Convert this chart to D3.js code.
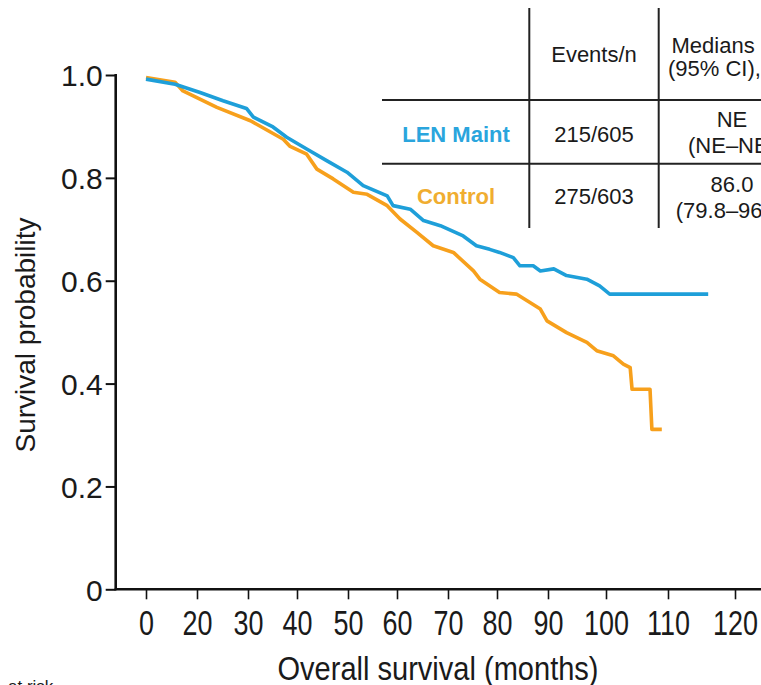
<!DOCTYPE html>
<html>
<head>
<meta charset="utf-8">
<script src="https://cdn.jsdelivr.net/npm/d3@7"></script>
<style>
  html, body { margin: 0; padding: 0; background: #ffffff; }
  svg { display: block; font-family: "Liberation Sans", Arial, sans-serif; }
</style>
</head>
<body>
<svg id="chart" width="761" height="685"></svg>
<script>
// ---------- DATA ----------
const xTickValues = [0, 20, 30, 40, 50, 60, 70, 80, 90, 100, 110, 120];
const yTickValues = [0, 0.2, 0.4, 0.6, 0.8, 1.0];

const lenMonths = [0, 11.4, 20.6, 25.1, 29.7, 31.1, 35.1, 37.9, 41.9, 45.9, 49.8, 53.1, 58.0, 59.2, 62.6, 65.2, 68.5, 73.1, 75.8, 78.5, 80.5, 83.2, 84.5, 87.1, 88.5, 91.0, 93.2, 96.7, 98.9, 100.6, 116.0];
const lenSurv   = [0.992, 0.982, 0.966, 0.950, 0.935, 0.918, 0.899, 0.879, 0.856, 0.833, 0.811, 0.785, 0.765, 0.746, 0.739, 0.717, 0.707, 0.687, 0.668, 0.661, 0.655, 0.645, 0.629, 0.629, 0.619, 0.623, 0.610, 0.603, 0.590, 0.574, 0.574];

const ctlMonths = [0, 11.4, 14.5, 23.9, 30.5, 37.2, 38.6, 41.9, 43.9, 47.1, 51.1, 53.9, 58.0, 60.6, 63.9, 67.1, 71.1, 75.2, 76.5, 80.5, 83.8, 88.5, 89.8, 93.2, 96.7, 98.4, 101.2, 102.8, 103.9, 104.2, 107.1, 107.4, 109.0];
const ctlSurv   = [0.995, 0.986, 0.969, 0.937, 0.911, 0.875, 0.861, 0.846, 0.817, 0.798, 0.772, 0.768, 0.746, 0.720, 0.694, 0.668, 0.655, 0.619, 0.603, 0.577, 0.574, 0.545, 0.522, 0.499, 0.480, 0.464, 0.454, 0.438, 0.431, 0.389, 0.389, 0.311, 0.311];

const groupNames   = ["LEN Maint", "Control"];
const groupEvents  = ["215/605", "275/603"];
const groupMedians = ["NE", "86.0"];
const groupCIs     = ["(NE\u2013NE)", "(79.8\u201396.0)"];
const tableHeaders = ["Events/n", "Medians (mo)", "(95% CI), mo"];

// ---------- LAYOUT ----------
const svg = d3.select("#chart");
const W = 761;
const yAxisX = 115.7, xAxisY = 589.3, yTopPx = 75;
// tick positions of the (non-uniform) month axis, as drawn in the figure
const xTickPx = [146, 197, 248, 297, 348, 397, 448, 497, 548, 606, 668, 735];
const blue = "#1e9fd9", orange = "#f7a01c";

const x = d3.scaleLinear().domain(xTickValues).range(xTickPx);
const y = d3.scaleLinear().domain([0, 1]).range([xAxisY, yTopPx]);

function txt(parent, px, py, str, size, sx, anchor, color, weight) {
  return parent.append("text")
    .attr("transform", `translate(${px},${py}) scale(${sx},1)`)
    .attr("text-anchor", anchor)
    .attr("font-size", size)
    .attr("font-weight", weight || "normal")
    .attr("fill", color || "#1a1a1a")
    .text(str);
}

// ---------- AXES ----------
const yAxis = d3.axisLeft(y).tickValues(yTickValues)
  .tickFormat(d => d === 0 ? "0" : d3.format(".1f")(d))
  .tickSize(10).tickPadding(3);
const gy = svg.append("g").attr("transform", `translate(${yAxisX},0)`).call(yAxis);
gy.select(".domain").remove();
gy.selectAll(".tick line").attr("stroke", "#111").attr("stroke-width", 2);
gy.selectAll(".tick text").attr("font-size", 30).attr("fill", "#1a1a1a")
  .attr("font-family", "'Liberation Sans', Arial, sans-serif").attr("dy", "0.36em");

const xAxis = d3.axisBottom(x).tickValues(xTickValues).tickSize(10).tickFormat(d3.format("d"));
const gx = svg.append("g").attr("transform", `translate(0,${xAxisY})`).call(xAxis);
gx.select(".domain").remove();
gx.selectAll(".tick line").attr("stroke", "#111").attr("stroke-width", 1.6);
gx.selectAll(".tick text")
  .attr("font-size", 35).attr("fill", "#1a1a1a")
  .attr("font-family", "'Liberation Sans', Arial, sans-serif")
  .attr("y", 0).attr("dy", 0)
  .attr("transform", "translate(0,46) scale(0.77,1)");

// axis lines
svg.append("line").attr("x1", yAxisX).attr("x2", yAxisX).attr("y1", yTopPx - 1).attr("y2", xAxisY + 1)
  .attr("stroke", "#111").attr("stroke-width", 2.6);
svg.append("line").attr("x1", yAxisX - 1).attr("x2", W).attr("y1", xAxisY).attr("y2", xAxisY)
  .attr("stroke", "#111").attr("stroke-width", 2.6);

// axis titles
txt(svg, 438, 680, "Overall survival (months)", 33, 0.88, "middle");
svg.append("text")
  .attr("transform", "translate(35,335) rotate(-90)")
  .attr("text-anchor", "middle").attr("font-size", 28).attr("fill", "#1a1a1a")
  .text("Survival probability");

// cut-off text at bottom-left
txt(svg, 8, 692, "at risk", 17, 1, "start");

// ---------- CURVES ----------
const line = d3.line().x(d => x(d[0])).y(d => y(d[1])).curve(d3.curveLinear);
const lenData = lenMonths.map((m, i) => [m, lenSurv[i]]);
const ctlData = ctlMonths.map((m, i) => [m, ctlSurv[i]]);

svg.append("path").datum(ctlData).attr("d", line)
  .attr("fill", "none").attr("stroke", orange).attr("stroke-width", 3.6)
  .attr("stroke-linejoin", "round");
svg.append("path").datum(lenData).attr("d", line)
  .attr("fill", "none").attr("stroke", blue).attr("stroke-width", 3.6)
  .attr("stroke-linejoin", "round");

// ---------- TABLE ----------
const tbl = svg.append("g");
const vLines = [529.3, 658.7];
vLines.forEach(vx => tbl.append("line").attr("x1", vx).attr("x2", vx).attr("y1", 8).attr("y2", 228)
  .attr("stroke", "#222").attr("stroke-width", 2));
[100, 163.7].forEach(hy => tbl.append("line").attr("x1", 382).attr("x2", W).attr("y1", hy).attr("y2", hy)
  .attr("stroke", "#222").attr("stroke-width", 2));

const col1 = 456, col2 = 594, col3 = 732;
txt(tbl, col2, 62, tableHeaders[0], 22, 1, "middle");
txt(tbl, 671.5, 53, tableHeaders[1], 22, 1, "start");
txt(tbl, 668, 76, tableHeaders[2], 22, 1, "start");

const rowColors = ["#2aa5dd", "#f0ad30"];
const rowBase = [141.5, 204];
const medBase = [126.5, 191.5];
groupNames.forEach((name, i) => {
  txt(tbl, col1, rowBase[i], name, 22, 1, "middle", rowColors[i], "bold");
  txt(tbl, col2, rowBase[i], groupEvents[i], 22, 1, "middle");
  txt(tbl, col3, medBase[i], groupMedians[i], 22, 1, "middle");
  txt(tbl, col3, medBase[i] + 26, groupCIs[i], 22, 1, "middle");
});
</script>
</body>
</html>
